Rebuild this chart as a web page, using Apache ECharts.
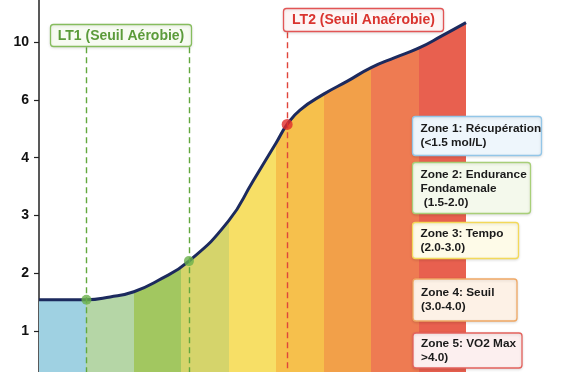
<!DOCTYPE html>
<html>
<head>
<meta charset="utf-8">
<script src="https://cdn.jsdelivr.net/npm/echarts@6/dist/echarts.min.js"></script>
<style>
html,body{margin:0;padding:0;background:#ffffff;}
#chart{width:568px;height:372px;}
</style>
</head>
<body>
<div id="chart"></div>
<script>
// ---- data ----
const effort  = [0, 0.5, 1, 1.5, 2, 2.5, 3.16, 4, 4.5, 5, 5.23, 5.5, 6, 6.5, 7, 7.5, 8, 8.5, 9];
const lactate = [1.54, 1.54, 1.54, 1.59, 1.68, 1.87, 2.21, 2.91, 3.58, 4.52, 5.15, 5.65, 6.40, 7.30, 8.24, 8.93, 9.58, 10.45, 11.35];
const tickValues = [1, 2, 3, 4, 6, 10];
const tickLabels = ['1', '2', '3', '4', '6', '10'];
const lt1Points = [[1, 1.54], [3.16, 2.21]];
const lt2Points = [[5.23, 5.15]];
const bandColors = ['#9fd1e2', '#b5d6a6', '#a2c760', '#d5d46b', '#f7df66', '#f6c04c', '#f2a049', '#ee7b52', '#e8604f'];
const lt1Label = 'LT1 (Seuil Aérobie)';
const lt2Label = 'LT2 (Seuil Anaérobie)';
const zoneTexts = [
  'Zone 1: Récupération\n(<1.5 mol/L)',
  'Zone 2: Endurance\nFondamenale\n (1.5-2.0)',
  'Zone 3: Tempo\n(2.0-3.0)',
  'Zone 4: Seuil\n(3.0-4.0)',
  'Zone 5: VO2 Max\n>4.0)'
];

// y axis is ordinal-spaced: ticks 0,1,2,3,4,6,10 at equal steps
const scalePts = [0].concat(tickValues);
function toAxis(v) {
  for (let i = 0; i < scalePts.length - 1; i++) {
    if (v <= scalePts[i + 1]) {
      return i + (v - scalePts[i]) / (scalePts[i + 1] - scalePts[i]);
    }
  }
  const n = scalePts.length - 1;
  return n + (v - scalePts[n]) / (scalePts[n] - scalePts[n - 1]);
}

const curve = effort.map((x, i) => [x, toAxis(lactate[i])]);
const stops = [];
bandColors.forEach((c, i) => {
  stops.push({ offset: i / bandColors.length, color: c });
  stops.push({ offset: (i + 1) / bandColors.length, color: c });
});

const FONT = '"Liberation Sans", Arial, sans-serif';

const zoneBoxes = [
  { x: 412.5, y: 116.5, w: 129, h: 39, fill: '#eef6fc', stroke: '#93c6e8', ty: 122 },
  { x: 412.5, y: 162.5, w: 118, h: 51, fill: '#f4f9ec', stroke: '#a8cf78', ty: 167.5 },
  { x: 412.5, y: 222.5, w: 106, h: 36, fill: '#fefbe8', stroke: '#f3d95a', ty: 226.5 },
  { x: 413, y: 279, w: 104, h: 42, fill: '#fdf1e6', stroke: '#f0a864', ty: 285.5 },
  { x: 413, y: 333, w: 109, h: 35, fill: '#fcefef', stroke: '#e4625c', ty: 337 }
];

const graphics = [];
zoneBoxes.forEach((b, i) => {
  graphics.push({
    type: 'rect', z: 100,
    shape: { x: b.x, y: b.y, width: b.w, height: b.h, r: 3 },
    style: { fill: b.fill, stroke: b.stroke, lineWidth: 1.3, shadowBlur: 3, shadowColor: 'rgba(0,0,0,0.12)', shadowOffsetY: 1 }
  });
  graphics.push({
    type: 'text', z: 101, x: b.x + 8, y: b.ty,
    style: { text: zoneTexts[i], fill: '#1a1a1a', font: 'bold 11.8px ' + FONT, lineHeight: 14, verticalAlign: 'top', align: 'left' }
  });
});
// LT1 box
graphics.push({
  type: 'rect', z: 100,
  shape: { x: 50.5, y: 24.5, width: 141, height: 22, r: 3 },
  style: { fill: '#f7fbf2', stroke: '#86bd5e', lineWidth: 1.3, shadowBlur: 3, shadowColor: 'rgba(0,0,0,0.10)', shadowOffsetY: 1 }
});
graphics.push({
  type: 'text', z: 101, x: 121, y: 36,
  style: { text: lt1Label, fill: '#5b9b3a', font: 'bold 14px ' + FONT, align: 'center', verticalAlign: 'middle' }
});
// LT2 box
graphics.push({
  type: 'rect', z: 100,
  shape: { x: 283.5, y: 8.5, width: 160, height: 23, r: 3 },
  style: { fill: '#fdf5f5', stroke: '#e25555', lineWidth: 1.3, shadowBlur: 3, shadowColor: 'rgba(0,0,0,0.10)', shadowOffsetY: 1 }
});
graphics.push({
  type: 'text', z: 101, x: 363.5, y: 20.5,
  style: { text: lt2Label, fill: '#d9342f', font: 'bold 14px ' + FONT, align: 'center', verticalAlign: 'middle' }
});

const yMin = 0.29, yMax = 6.73;
const lt1Top = 5.91, lt2Top = 6.17;

const chart = echarts.init(document.getElementById('chart'), null, { renderer: 'canvas' });
chart.setOption({
  backgroundColor: '#ffffff',
  animation: false,
  grid: { left: 39, right: 102, top: 0, bottom: 0, containLabel: false },
  xAxis: { type: 'value', min: 0, max: 9, show: false },
  yAxis: {
    type: 'value', min: yMin, max: yMax,
    axisLine: { show: true, lineStyle: { color: '#222222', width: 1.5 } },
    axisTick: { show: true, length: 5, customValues: [1, 2, 3, 4, 5, 6], lineStyle: { color: '#222222', width: 1.2 } },
    axisLabel: {
      customValues: [1, 2, 3, 4, 5, 6], margin: 10,
      color: '#111111', fontWeight: 'bold', fontSize: 14, fontFamily: FONT,
      formatter: v => tickLabels[Math.round(v) - 1] || ''
    },
    splitLine: { show: false }
  },
  series: [
    {
      type: 'line', data: curve, smooth: 0.5, symbol: 'none', z: 3,
      lineStyle: { color: '#1c2a5e', width: 3 },
      areaStyle: { opacity: 1, color: { type: 'linear', x: 0, y: 0, x2: 1, y2: 0, colorStops: stops } },
      markLine: {
        silent: true, symbol: ['none', 'none'], label: { show: false },
        data: [
          [{ coord: [lt1Points[0][0], lt1Top], lineStyle: { color: '#62a83d' } }, { coord: [lt1Points[0][0], yMin] }],
          [{ coord: [lt1Points[1][0], lt1Top], lineStyle: { color: '#62a83d' } }, { coord: [lt1Points[1][0], yMin] }],
          [{ coord: [lt2Points[0][0], lt2Top], lineStyle: { color: '#e0443a' } }, { coord: [lt2Points[0][0], yMin] }]
        ],
        lineStyle: { type: [6, 4], width: 1.4 }
      }
    },
    {
      type: 'scatter', z: 5, symbolSize: 10,
      data: lt1Points.map(p => [p[0], toAxis(p[1])]),
      itemStyle: { color: '#6ab04c' }
    },
    {
      type: 'scatter', z: 5, symbolSize: 11,
      data: lt2Points.map(p => [p[0], toAxis(p[1])]),
      itemStyle: { color: '#e02a2a' }
    }
  ],
  graphic: graphics
});
</script>
</body>
</html>
